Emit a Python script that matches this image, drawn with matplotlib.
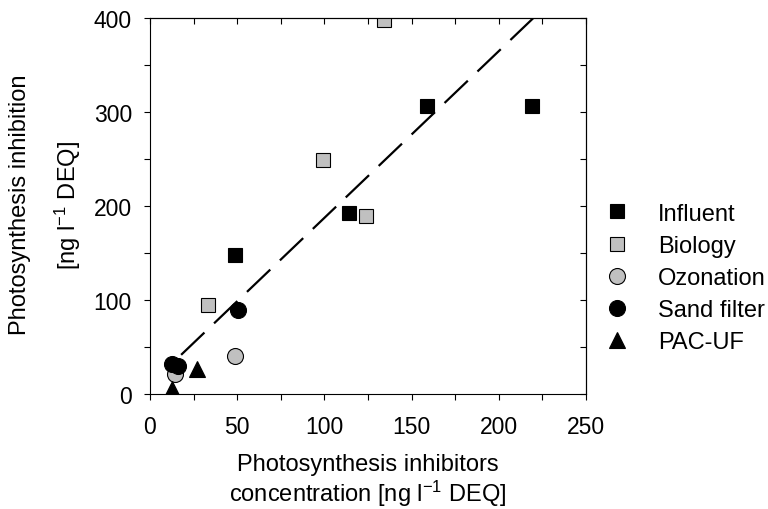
import matplotlib
matplotlib.use("Agg")
import matplotlib.pyplot as plt
import numpy as np

plt.rcParams['font.family'] = ['Liberation Sans', 'DejaVu Sans']
plt.rcParams['mathtext.fontset'] = 'custom'
plt.rcParams['mathtext.rm'] = 'Liberation Sans'
plt.rcParams['mathtext.it'] = 'Liberation Sans:italic'

# Data
influent_x = [49, 114, 159, 219]
influent_y = [148, 193, 306, 306]
biology_x = [33.5, 99, 124, 134]
biology_y = [95, 249, 189, 398]
ozonation_x = [14.5, 49]
ozonation_y = [21, 40]
sand_x = [12.5, 16, 50.5]
sand_y = [32, 30, 89]
pacuf_x = [12.8, 27]
pacuf_y = [5, 27]
fit_slope = 1.774
fit_intercept = 10.0
fit_x = np.array([220.0, 13.0])
fit_y = fit_slope * fit_x + fit_intercept

x_ticks = [0, 50, 100, 150, 200, 250]
y_ticks = [0, 100, 200, 300, 400]

fig = plt.figure(figsize=(7.68, 5.10), dpi=100)
ax = fig.add_axes([150/768, 1-395/510, 436/768, 376/510])

ax.plot(fit_x, fit_y, color='black', lw=1.6, dashes=(14.5, 6), dash_capstyle='butt', zorder=1)

ms = 10.5
ax.plot(influent_x, influent_y, 's', ms=ms, mfc='black', mec='black', mew=0.8, label='Influent', zorder=2)
ax.plot(biology_x, biology_y, 's', ms=ms, mfc='#c0c0c0', mec='black', mew=0.8, label='Biology', zorder=2)
ax.plot(ozonation_x, ozonation_y, 'o', ms=11.5, mfc='#c0c0c0', mec='black', mew=0.8, label='Ozonation', zorder=2)
ax.plot(sand_x, sand_y, 'o', ms=11.5, mfc='black', mec='black', mew=0.8, label='Sand filter', zorder=3)
ax.plot(pacuf_x, pacuf_y, '^', ms=11.5, mfc='black', mec='black', mew=0.8, label='PAC-UF', zorder=3)

ax.set_xlim(0, 250)
ax.set_ylim(0, 400)
ax.set_xticks(x_ticks)
ax.set_yticks(y_ticks)
ax.set_xticks(np.arange(25, 250, 50), minor=True)
ax.set_yticks(np.arange(50, 400, 100), minor=True)
ax.tick_params(axis='both', which='both', labelsize=16.5, length=4, width=0.8, color='black')
ax.tick_params(axis='both', which='both', direction='out')
ax.tick_params(axis='x', which='major', pad=11)
ax.tick_params(axis='y', which='major', pad=9)
for s in ax.spines.values():
    s.set_linewidth(0.8)

# mirrored inward ticks on top/right
secx = ax.secondary_xaxis('top')
secx.set_xticks(x_ticks)
secx.set_xticks(np.arange(25, 250, 50), minor=True)
secx.tick_params(which='both', direction='in', length=4, width=0.8, labeltop=False)
secx.set_xticklabels([])
secy = ax.secondary_yaxis('right')
secy.set_yticks(y_ticks)
secy.set_yticks(np.arange(50, 400, 100), minor=True)
secy.tick_params(which='both', direction='in', length=4, width=0.8, labelright=False)
secy.set_yticklabels([])

fs = 17
fig.text(368/768, 1-471/510, 'Photosynthesis inhibitors', ha='center', va='baseline', fontsize=fs)
fig.text(368/768, 1-502/510, r'concentration [ng l$^{-1}$ DEQ]', ha='center', va='baseline', fontsize=fs)
fig.text(20/768, 1-205/510, 'Photosynthesis inhibition', ha='center', va='center', rotation=90, fontsize=fs)
fig.text(68/768, 1-205/510, r'[ng l$^{-1}$ DEQ]', ha='center', va='center', rotation=90, fontsize=fs)

leg = fig.legend(loc='center left', bbox_to_anchor=(605/768, 1-279/510), frameon=False,
                 fontsize=fs, labelspacing=0.43, handletextpad=1.25, handlelength=1.0,
                 borderaxespad=0, borderpad=0)

fig.savefig('out.png', dpi=100)
